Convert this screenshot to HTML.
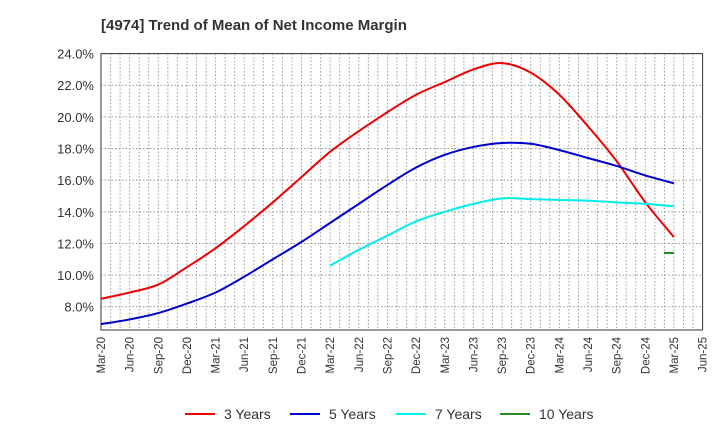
<!DOCTYPE html>
<html><head><meta charset="utf-8"><style>
body{margin:0;background:#fff;font-family:"Liberation Sans",sans-serif;}
svg text{font-family:"Liberation Sans",sans-serif;}
</style></head><body>
<svg id="c" width="720" height="440" xmlns="http://www.w3.org/2000/svg">
<text x="101" y="30" font-size="15" font-weight="bold" fill="#333">[4974]  Trend of Mean of Net Income Margin</text>
<g id="grid"></g><g id="axes"></g><g id="series"></g><g id="legend"></g>
</svg>
<script>
const xLabels=["Mar-20","Jun-20","Sep-20","Dec-20","Mar-21","Jun-21","Sep-21","Dec-21","Mar-22","Jun-22","Sep-22","Dec-22","Mar-23","Jun-23","Sep-23","Dec-23","Mar-24","Jun-24","Sep-24","Dec-24","Mar-25","Jun-25"];
const yTicks=[8,10,12,14,16,18,20,22,24];
const s3=[8.5,8.9,9.4,10.5,11.7,13.1,14.6,16.2,17.8,19.1,20.3,21.4,22.2,23.0,23.4,22.8,21.4,19.4,17.2,14.6,12.4];
const s5=[6.9,7.2,7.6,8.2,8.9,9.9,11.0,12.1,13.3,14.5,15.7,16.8,17.6,18.1,18.35,18.3,17.9,17.4,16.9,16.3,15.8];
const s7=[null,null,null,null,null,null,null,null,10.6,11.6,12.5,13.4,14.0,14.5,14.85,14.8,14.75,14.7,14.6,14.5,14.35];
const s10=[null,null,null,null,null,null,null,null,null,null,null,null,null,null,null,null,null,null,null,null,11.4];
const names=["3 Years","5 Years","7 Years","10 Years"];
const colors=["#e00","#00c","#0ee","#228B22"];
const L=101,R=702.6,T=53.6,B=330,yMin=6.53,yMax=24;
const NS="http://www.w3.org/2000/svg";
const X=i=>L+i*(R-L)/21;
const Y=v=>B-(v-yMin)/(yMax-yMin)*(B-T);
function mk(p,tag,a){const e=document.createElementNS(NS,tag);for(const k in a)e.setAttribute(k,a[k]);document.getElementById(p).appendChild(e);return e;}
for(let m=1;m<63;m++){const x=L+m*(R-L)/63;
const g=mk('grid','line',{x1:x,x2:x,y1:T,y2:B,stroke:'#999','stroke-dasharray':'1.5,2','stroke-width':1});

}
yTicks.forEach(v=>{const y=Y(v);
const g=mk('grid','line',{x1:L,x2:R,y1:y,y2:y,stroke:'#999','stroke-dasharray':'1.5,2'});


const t=mk('axes','text',{x:L-7,y:y+5,'text-anchor':'end','font-size':13,fill:'#333'});t.textContent=v.toFixed(1)+'%';

});
const fr=mk('axes','rect',{x:L,y:T,width:R-L,height:B-T,fill:'none',stroke:'#333'});


xLabels.forEach((l,i)=>{const x=X(i);
const t=mk('axes','text',{transform:`translate(${x+4},337) rotate(-90)`,'text-anchor':'end','font-size':11.5,fill:'#333'});t.textContent=l;

});
[s3,s5,s7,s10].forEach((s,k)=>{let d='';let pts=[];s.forEach((v,i)=>{if(v!=null)pts.push([X(i),Y(v)]);});
if(pts.length==1){d=`M${pts[0][0]-10},${pts[0][1]}L${pts[0][0]},${pts[0][1]}`;}
else{d='M'+pts[0].join(',');for(let i=0;i<pts.length-1;i++){const p0=pts[i-1]||pts[i],p1=pts[i],p2=pts[i+1],p3=pts[i+2]||p2;
d+=`C${p1[0]+(p2[0]-p0[0])/6},${p1[1]+(p2[1]-p0[1])/6} ${p2[0]-(p3[0]-p1[0])/6},${p2[1]-(p3[1]-p1[1])/6} ${p2[0]},${p2[1]}`;}}
const p=mk('series','path',{d:d,fill:'none',stroke:colors[k],'stroke-width':2});


const lx=[185,290,396,500][k];
const ll=mk('legend','line',{x1:lx,x2:lx+30,y1:414,y2:414,stroke:colors[k],'stroke-width':2});


const lt=mk('legend','text',{x:lx+39,y:419,'font-size':14,fill:'#333'});lt.textContent=names[k];

});
</script>
</body></html>
